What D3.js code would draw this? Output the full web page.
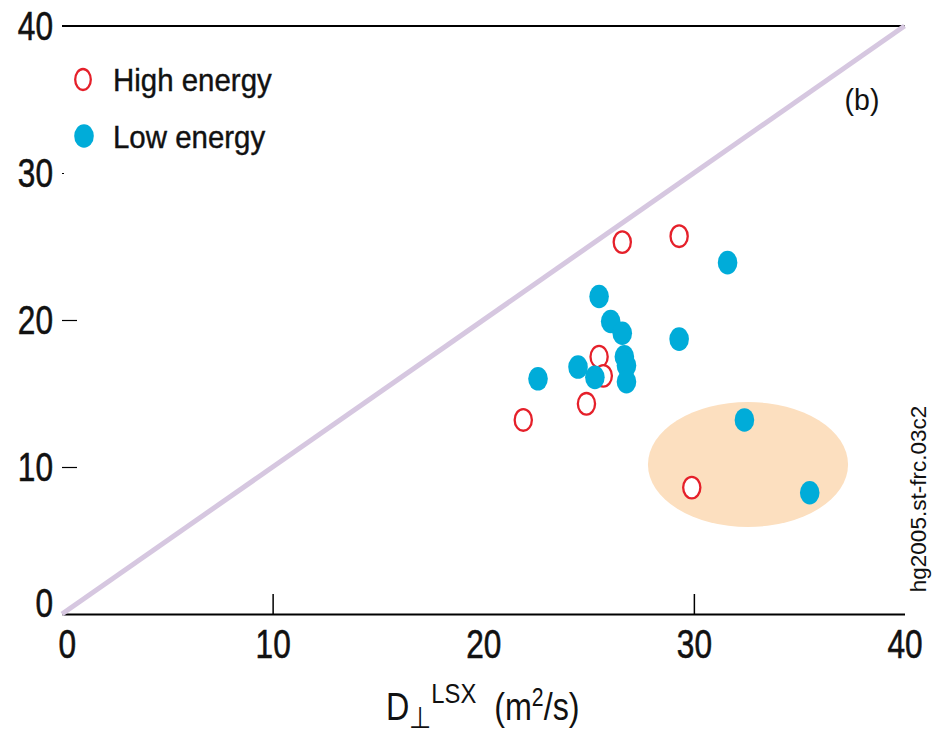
<!DOCTYPE html>
<html>
<head>
<meta charset="utf-8">
<script src="https://cdn.jsdelivr.net/npm/d3@7"></script>
<style>
  body { margin: 0; background: #fff; }
  text { font-family: "Liberation Sans", Arial, sans-serif; fill: #111; }
</style>
</head>
<body>
<script>
// high energy shots (open red)
var highX = [21.9, 24.9, 25.5, 25.7, 26.6, 29.3, 29.9];
var highY = [13.2, 14.3, 17.5, 16.2, 25.3, 25.7, 8.6];
// low energy shots (filled blue)
var lowX = [22.6, 24.5, 25.3, 25.5, 26.05, 26.6, 26.7, 26.8, 26.8, 29.3, 31.6, 32.4, 35.5];
var lowY = [16.0, 16.8, 16.1, 21.6, 19.9, 19.1, 17.5, 16.9, 15.8, 18.7, 23.9, 13.2, 8.25];
// highlighted region (center, half widths)
var blobX = [32.57, 4.75];
var blobY = [10.17, 4.25];
var xTicks = [0, 10, 20, 30, 40];
var yTicks = [0, 10, 20, 30, 40];
var legendNames = ["High energy", "Low energy"];

var red = "#e5202a", blue = "#00acd9";

var svg = d3.select("body").append("svg")
    .attr("width", 940)
    .attr("height", 734);

var x = d3.scaleLinear().domain([0, 40]).range([62, 904.5]);
var y = d3.scaleLinear().domain([0, 40]).range([614, 26]);

// orange ellipse behind the outliers
svg.append("ellipse")
    .attr("cx", x(blobX[0]))
    .attr("cy", y(blobY[0]))
    .attr("rx", x(blobX[1]) - x(0))
    .attr("ry", y(0) - y(blobY[1]))
    .attr("fill", "#fcdfbf");

// top frame line
svg.append("line")
    .attr("x1", x(0)).attr("x2", x(40))
    .attr("y1", y(40)).attr("y2", y(40))
    .attr("stroke", "#000").attr("stroke-width", 2);

// x axis, ticks point up
var xAxis = svg.append("g")
    .attr("transform", "translate(0," + y(0) + ")")
    .call(d3.axisBottom(x).tickValues(xTicks).tickSizeInner(-20).tickSizeOuter(0).tickPadding(16));
xAxis.select(".domain").attr("stroke-width", 2);
xAxis.selectAll(".tick line")
    .attr("stroke-width", 1.5)
    .attr("display", function(d) { return (d == 10 || d == 30) ? null : "none"; });
xAxis.selectAll(".tick text")
    .attr("font-size", 40)
    .attr("font-family", "Liberation Sans, Arial, sans-serif")
    .attr("fill", "#111")
    .attr("stroke", "#111").attr("stroke-width", 0.6)
    .attr("x", function(d) { return d == 0 ? 6 : 0; })
    .attr("transform", "scale(0.79,1)");

// y axis, no spine, short inward ticks
var yAxis = svg.append("g")
    .attr("transform", "translate(" + x(0) + ",0)")
    .call(d3.axisLeft(y).tickValues(yTicks).tickSizeInner(-15).tickSizeOuter(0).tickPadding(9));
yAxis.select(".domain").remove();
yAxis.selectAll(".tick line")
    .attr("stroke-width", 1.2)
    .attr("x2", function(d) { return d == 30 ? 2 : 15; })
    .attr("display", function(d) { return (d == 0 || d == 40) ? "none" : null; });
yAxis.selectAll(".tick text")
    .attr("font-size", 40)
    .attr("font-family", "Liberation Sans, Arial, sans-serif")
    .attr("fill", "#111")
    .attr("stroke", "#111").attr("stroke-width", 0.6)
    .attr("x", -9 / 0.79)
    .attr("dy", function(d) { return d == 0 ? "0.07em" : "0.34em"; })
    .attr("transform", "scale(0.79,1)");

// diagonal y = x
svg.append("line")
    .attr("x1", x(0)).attr("y1", y(0))
    .attr("x2", x(40)).attr("y2", y(40))
    .attr("stroke", "#d6c7e0").attr("stroke-width", 5);

// points
var highData = highX.map(function(v, i) { return [v, highY[i]]; });
var lowData = lowX.map(function(v, i) { return [v, lowY[i]]; });

svg.selectAll(".high")
    .data(highData)
  .enter().append("ellipse")
    .attr("class", "high")
    .attr("cx", function(d) { return x(d[0]); })
    .attr("cy", function(d) { return y(d[1]); })
    .attr("rx", 8.6).attr("ry", 10.8)
    .attr("fill", "#fff")
    .attr("stroke", red).attr("stroke-width", 2.3);

svg.selectAll(".low")
    .data(lowData)
  .enter().append("ellipse")
    .attr("class", "low")
    .attr("cx", function(d) { return x(d[0]); })
    .attr("cy", function(d) { return y(d[1]); })
    .attr("rx", 9.8).attr("ry", 11.8)
    .attr("fill", blue);

// legend
var leg = svg.append("g");
leg.append("ellipse")
    .attr("cx", 83).attr("cy", 79.5).attr("rx", 7.8).attr("ry", 10.5)
    .attr("fill", "#fff").attr("stroke", red).attr("stroke-width", 2.3);
leg.append("ellipse")
    .attr("cx", 84).attr("cy", 136).attr("rx", 9.8).attr("ry", 11.8)
    .attr("fill", blue);
leg.selectAll(".lt")
    .data(legendNames)
  .enter().append("text")
    .attr("class", "lt")
    .attr("transform", function(d, i) { return "translate(113," + (i == 0 ? 90.5 : 148) + ") scale(0.95,1)"; })
    .attr("font-size", 31)
    .attr("stroke", "#111").attr("stroke-width", 0.4)
    .text(function(d) { return d; });

// panel tag
svg.append("text")
    .attr("transform", "translate(862,110) scale(0.95,1)")
    .attr("text-anchor", "middle")
    .attr("font-size", 30)
    .text("(b)");

// figure id, rotated
svg.append("text")
    .attr("transform", "translate(926,499) rotate(-90)")
    .attr("text-anchor", "middle")
    .attr("font-size", 22.5)
    .text("hg2005.st-frc.03c2");

// x axis title
var xt = svg.append("text")
    .attr("transform", "translate(386,720) scale(0.85,1)")
    .attr("font-size", 38);
xt.append("tspan").text("D");
xt.append("tspan").attr("font-size", 30).attr("dy", 8).text("\u22a5");
xt.append("tspan").attr("font-size", 28).attr("dy", -25).text("LSX");
xt.append("tspan").attr("dy", 17).text("\u00a0 (m");
xt.append("tspan").attr("font-size", 25).attr("dy", -14).text("2");
xt.append("tspan").attr("dy", 14).text("/s)");
</script>
</body>
</html>
